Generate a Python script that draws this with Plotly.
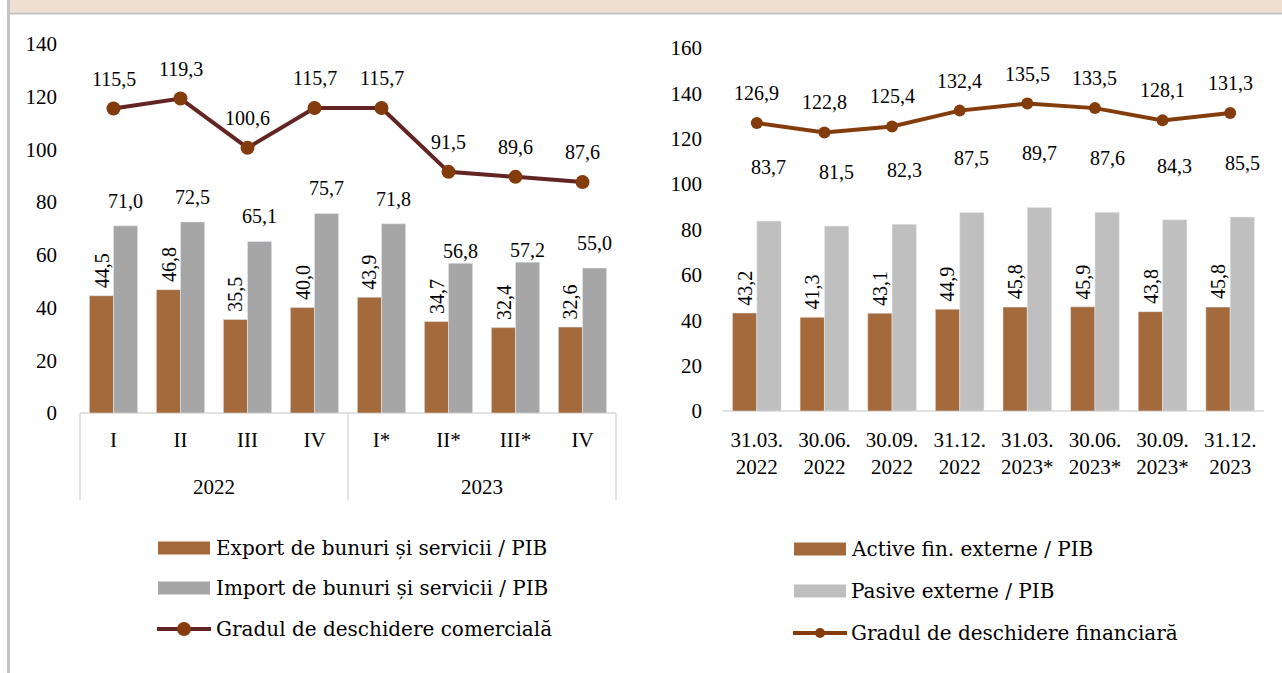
import plotly.graph_objects as go

# ---------------- data ----------------
quarters = ["I", "II", "III", "IV", "I*", "II*", "III*", "IV"]
years_left = ["2022", "2023"]
export_gdp = [44.5, 46.8, 35.5, 40.0, 43.9, 34.7, 32.4, 32.6]
import_gdp = [71.0, 72.5, 65.1, 75.7, 71.8, 56.8, 57.2, 55.0]
trade_open = [115.5, 119.3, 100.6, 115.7, 115.7, 91.5, 89.6, 87.6]

dates = ["31.03.<br>2022", "30.06.<br>2022", "30.09.<br>2022", "31.12.<br>2022",
         "31.03.<br>2023*", "30.06.<br>2023*", "30.09.<br>2023*", "31.12.<br>2023"]
assets_gdp = [43.2, 41.3, 43.1, 44.9, 45.8, 45.9, 43.8, 45.8]
liab_gdp = [83.7, 81.5, 82.3, 87.5, 89.7, 87.6, 84.3, 85.5]
fin_open = [126.9, 122.8, 125.4, 132.4, 135.5, 133.5, 128.1, 131.3]

names_left = ["Export de bunuri și servicii / PIB", "Import de bunuri și servicii / PIB",
              "Gradul de deschidere comercială"]
names_right = ["Active fin. externe / PIB", "Pasive externe / PIB",
               "Gradul de deschidere financiară"]

# ---------------- style ----------------
W, H = 1282, 673
FONT = "Liberation Serif, DejaVu Serif, serif"
LFONT = "DejaVu Serif, Liberation Serif, serif"
C_EXP = "#A46A3C"
C_IMP = "#A6A6A6"
C_PAS = "#BFBFBF"
C_LINE_L = "#632523"
C_MARK = "#843C0C"
C_AXIS = "#D9D9D9"
# vertical gap (px) between import bars and their labels (left panel)
imp_label_gap_left = [25, 25, 25, 25, 25, 12, 12, 25]


def X(px):
    return px / W


def Y(py):
    return 1 - py / H


def fmt(v):
    return f"{v:.1f}".replace(".", ",")


idx = list(range(len(quarters)))
fig = go.Figure()

# left panel
fig.add_trace(go.Bar(x=idx, y=export_gdp, width=0.36, offset=-0.36, marker_color=C_EXP,
                     name=names_left[0], xaxis="x", yaxis="y", showlegend=False))
fig.add_trace(go.Bar(x=idx, y=import_gdp, width=0.36, offset=0, marker_color=C_IMP,
                     name=names_left[1], xaxis="x", yaxis="y", showlegend=False))
fig.add_trace(go.Scatter(x=idx, y=trade_open, mode="lines+markers", name=names_left[2],
                         line=dict(color=C_LINE_L, width=4),
                         marker=dict(color=C_MARK, size=14),
                         xaxis="x", yaxis="y", showlegend=False))
# right panel
fig.add_trace(go.Bar(x=idx, y=assets_gdp, width=0.36, offset=-0.36, marker_color=C_EXP,
                     name=names_right[0], xaxis="x2", yaxis="y2", showlegend=False))
fig.add_trace(go.Bar(x=idx, y=liab_gdp, width=0.36, offset=0, marker_color=C_PAS,
                     name=names_right[1], xaxis="x2", yaxis="y2", showlegend=False))
fig.add_trace(go.Scatter(x=idx, y=fin_open, mode="lines+markers", name=names_right[2],
                         line=dict(color=C_MARK, width=4),
                         marker=dict(color=C_MARK, size=12),
                         xaxis="x2", yaxis="y2", showlegend=False))

ann = []
lab_font = dict(family=FONT, size=20, color="#000000")


def add_labels(xr, yr, bars1, bars2, line, shifts2):
    for i in idx:
        ann.append(dict(x=i - 0.18, y=bars1[i], xref=xr, yref=yr, text=fmt(bars1[i]),
                        showarrow=False, textangle=-90, yshift=25,
                        xanchor="center", yanchor="middle", font=lab_font))
        ann.append(dict(x=i + 0.18, y=bars2[i], xref=xr, yref=yr, text=fmt(bars2[i]),
                        showarrow=False, yshift=shifts2[i],
                        xanchor="center", yanchor="middle", font=lab_font))
        ann.append(dict(x=i, y=line[i], xref=xr, yref=yr, text=fmt(line[i]),
                        showarrow=False, yshift=30,
                        xanchor="center", yanchor="middle", font=lab_font))


add_labels("x", "y", export_gdp, import_gdp, trade_open, imp_label_gap_left)
add_labels("x2", "y2", assets_gdp, liab_gdp, fin_open, [54] * len(idx))

# year group labels (left panel)
for xp, yr_txt in zip((214, 482), years_left):
    ann.append(dict(x=X(xp), y=Y(487), xref="paper", yref="paper", text=yr_txt,
                    showarrow=False, xanchor="center", yanchor="middle",
                    font=dict(family=FONT, size=21, color="#000000")))

shapes = []
# header band
shapes.append(dict(type="rect", xref="paper", yref="paper", x0=X(9), x1=1, y0=Y(12.5), y1=1,
                   fillcolor="#EEDFD0", line=dict(width=0), layer="below"))
shapes.append(dict(type="line", xref="paper", yref="paper", x0=X(9), x1=1, y0=Y(13.5), y1=Y(13.5),
                   line=dict(color="#BFBFBF", width=2)))
shapes.append(dict(type="line", xref="paper", yref="paper", x0=X(8.5), x1=X(8.5), y0=0, y1=1,
                   line=dict(color="#C4C4C4", width=3)))
# left axis box
shapes.append(dict(type="line", xref="paper", yref="paper", x0=X(80), x1=X(616), y0=Y(413), y1=Y(413),
                   line=dict(color=C_AXIS, width=1.5), layer="below"))
for xp in (80, 348, 616):
    shapes.append(dict(type="line", xref="paper", yref="paper", x0=X(xp), x1=X(xp), y0=Y(413), y1=Y(500),
                       line=dict(color=C_AXIS, width=1.5), layer="below"))
# right baseline
shapes.append(dict(type="line", xref="paper", yref="paper", x0=X(723), x1=X(1264), y0=Y(411), y1=Y(411),
                   line=dict(color=C_AXIS, width=1.5), layer="below"))

# legends (drawn manually)
leg_font = dict(family=LFONT, size=20, color="#000000")


def legend_block(x_sw0, x_sw1, x_txt, ys, colors, names, line_col, line_w, mk_r):
    for k in range(2):
        shapes.append(dict(type="rect", xref="paper", yref="paper", x0=X(x_sw0), x1=X(x_sw1),
                           y0=Y(ys[k] + 6.5), y1=Y(ys[k] - 6.5), fillcolor=colors[k], line=dict(width=0)))
    shapes.append(dict(type="line", xref="paper", yref="paper", x0=X(x_sw0 - 1), x1=X(x_sw1 + 1),
                       y0=Y(ys[2]), y1=Y(ys[2]), line=dict(color=line_col, width=line_w)))
    cx = (x_sw0 + x_sw1) / 2
    shapes.append(dict(type="circle", xref="paper", yref="paper", x0=X(cx - mk_r), x1=X(cx + mk_r),
                       y0=Y(ys[2] + mk_r), y1=Y(ys[2] - mk_r), fillcolor=C_MARK, line=dict(width=0)))
    for k in range(3):
        ann.append(dict(x=X(x_txt), y=Y(ys[k]), xref="paper", yref="paper", text=names[k],
                        showarrow=False, xanchor="left", yanchor="middle", font=leg_font))


legend_block(158, 210, 214, [548, 588, 629], [C_EXP, C_IMP], names_left, C_LINE_L, 4, 7)
legend_block(794, 846, 849, [549, 591, 633], [C_EXP, C_PAS], names_right, C_MARK, 4, 5)

tick_font = dict(family=FONT, size=21, color="#000000")
common = dict(showgrid=False, zeroline=False, showline=False, ticks="", tickfont=tick_font,
              automargin=False, fixedrange=True)
fig.update_layout(
    width=W, height=H, margin=dict(l=0, r=0, t=0, b=0, pad=0, autoexpand=False),
    paper_bgcolor="white", plot_bgcolor="white", barmode="overlay",
    showlegend=False,
    xaxis=dict(domain=[X(80), X(616)], range=[-0.5, 7.5], tickvals=idx, ticktext=quarters,
               ticklabelstandoff=12, anchor="y", **common),
    yaxis=dict(domain=[Y(413), Y(44)], range=[0, 140], dtick=20,
               ticklabelstandoff=22, anchor="x", **common),
    xaxis2=dict(domain=[X(723), X(1264)], range=[-0.5, 7.5], tickvals=idx, ticktext=dates,
                ticklabelstandoff=14, anchor="y2", **common),
    yaxis2=dict(domain=[Y(411), Y(48)], range=[0, 160], dtick=20,
                ticklabelstandoff=20, anchor="x2", **common),
    annotations=ann, shapes=shapes,
)

fig.write_html("out.html", config={"displayModeBar": False},
               post_script="document.body.style.margin='0px';document.body.style.overflow='hidden';")
